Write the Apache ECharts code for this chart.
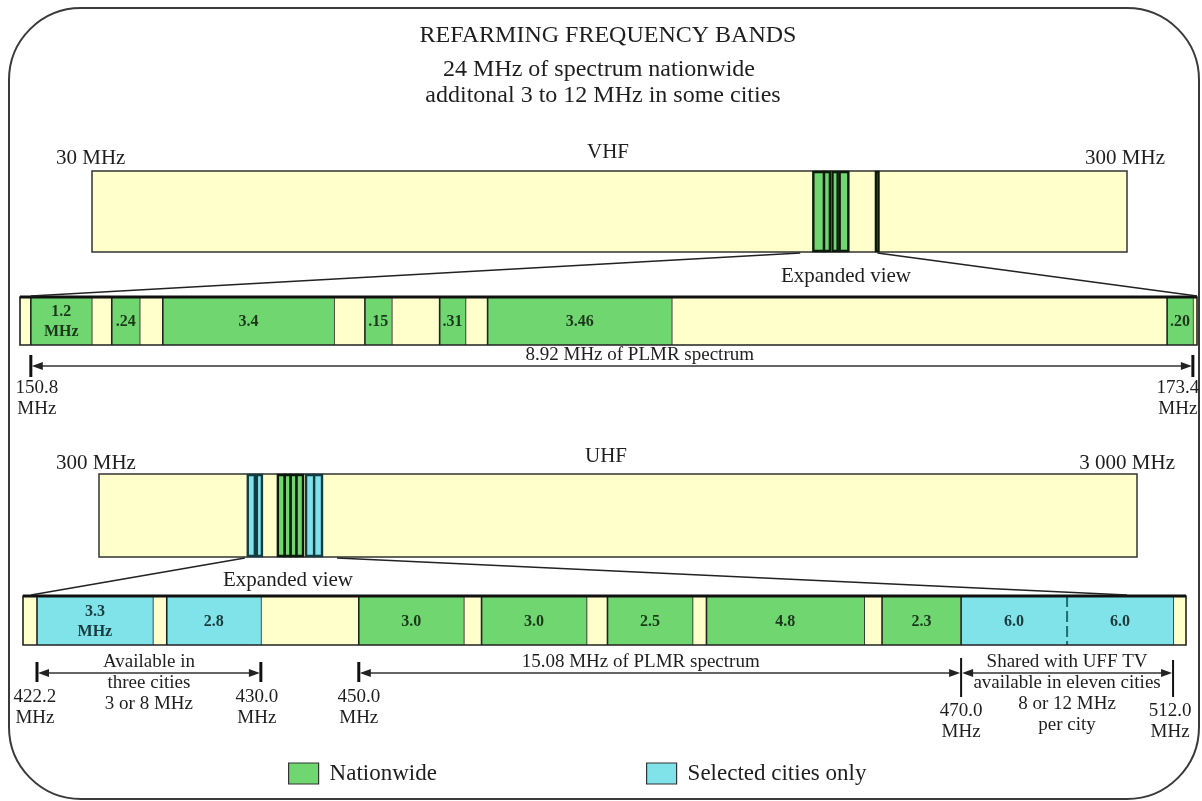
<!DOCTYPE html>
<html><head><meta charset="utf-8">
<script src="https://cdn.jsdelivr.net/npm/echarts@6/dist/echarts.min.js"></script>
<style>html,body{margin:0;padding:0;background:#fff}#c{width:1202px;height:801px}</style>
</head><body><div id="c"></div>
<script>
// ================= DATA =================
// Overview bands (log scale, MHz)
const vhfRange = [30, 300];
const vhfEndLabels = ['30 MHz', '300 MHz'];
const uhfRange = [300, 3000];
const uhfEndLabels = ['300 MHz', '3 000 MHz'];

// Marks visible on the overview bars: [fromMHz, toMHz, kind]
const vhfOverview = [[149.3,152.9,'nat'],[152.9,154.9,'nat'],[155.8,157.6,'nat'],[158.3,161.4,'nat'],[171.6,172.6,'nat']];
const uhfOverview = [[417.3,423.9,'city'],[425.8,430.6,'city'],[446.1,453,'nat'],[453,459,'nat'],[459,465,'nat'],[465,471.7,'nat'],[474.9,483.5,'city'],[483.5,492,'city']];

// Expanded VHF view: segments left to right (drawn widths, ~MHz)
const vhfKinds  = ['gap','nat','gap','nat','gap','nat','gap','nat','gap','nat','gap','nat','gap','nat','gap'];
const vhfLabels = ['','1.2\nMHz','','.24','','3.4','','.15','','.31','','3.46','','.20',''];
const vhfWidths = [0.21,1.18,0.39,0.54,0.45,3.32,0.6,0.52,0.93,0.5,0.43,3.57,9.61,0.5,0.08];
const vhfTickLabels = ['150.8','173.4'];
const vhfTickAfter  = [0, 13];                 // tick sits after this segment
const vhfSpans = [[0, 1, '8.92 MHz of PLMR spectrum', 0.524]];   // [fromTick, toTick, text, textAt]

// Expanded UHF view
const uhfKinds  = ['gap','city','gap','city','gap','nat','gap','nat','gap','nat','gap','nat','gap','nat','city','city','gap'];
const uhfLabels = ['','3.3\nMHz','','2.8','','3.0','','3.0','','2.5','','4.8','','2.3','6.0','6.0',''];
const uhfWidths = [0.4,3.31,0.4,2.69,2.8,3.0,0.51,3.0,0.6,2.43,0.4,4.51,0.51,2.26,3.03,3.03,0.37];
const uhfTickLabels = ['422.2','430.0','450.0','470.0','512.0'];
const uhfTickAfter  = [0, 3, 4, 13, 15];
const uhfSpans = [
  [0, 1, 'Available in\nthree cities\n3 or 8 MHz', 0.5],
  [2, 3, '15.08 MHz of PLMR spectrum', 0.468],
  [3, 4, 'Shared with UFF TV\navailable in eleven cities\n8 or 12 MHz\nper city', 0.5]
];
// "Expanded view" connectors: [overview MHz, expanded position]
const vhfLinks = [[145.0, 0.21], [172.2, 22.83]];
const uhfLinks = [[414.6, 0.23], [508.7, 31.56]];

const legendNames = ['Nationwide', 'Selected cities only'];

// ================= STYLE =================
const GREEN = '#70d670', TEAL = '#80e3ea', YELLOW = '#ffffcc', INK = '#1e1e1e';
const SERIF = '"Liberation Serif","DejaVu Serif",serif';
const colorOf = {nat: GREEN, city: TEAL, gap: YELLOW};
const edgeOf = {nat: '#0b1a0b', city: '#123c42'};
const nameOf = {nat: legendNames[0], city: legendNames[1], gap: 'Unallocated'};

const vhfTickStyle = [
  {y0: 10, y1: 32, lw: 3, top: 33, dx: 6},
  {y0: 10, y1: 32, lw: 3, top: 33, dx: -15}
];
const uhfTickStyle = [
  {y0: 17, y1: 37, lw: 3, top: 42, dx: -2},
  {y0: 17, y1: 37, lw: 3, top: 42, dx: -4},
  {y0: 17, y1: 37, lw: 3, top: 42, dx: 0},
  {y0: 13, y1: 52, lw: 2, top: 56, dx: 0},
  {y0: 15, y1: 52, lw: 2, top: 56, dx: -3}
];

function edges(widths) { const e = [0]; widths.forEach(w => e.push(e[e.length - 1] + w)); return e; }
function sum(a) { return a.reduce((s, v) => s + v, 0); }

const bands = {
  vhf: {kinds: vhfKinds, labels: vhfLabels, widths: vhfWidths, tickLabels: vhfTickLabels, tickAfter: vhfTickAfter,
        spans: vhfSpans, tickStyle: vhfTickStyle, arrowY: 21, axis: 1},
  uhf: {kinds: uhfKinds, labels: uhfLabels, widths: uhfWidths, tickLabels: uhfTickLabels, tickAfter: uhfTickAfter,
        spans: uhfSpans, tickStyle: uhfTickStyle, arrowY: 28, axis: 3}
};

const chart = echarts.init(document.getElementById('c'), null, {renderer: 'canvas'});

function segRender(band) {
  return function (params, api) {
    const a = api.value(0), b = api.value(1), i = api.value(2);
    const tl = api.coord([a, 1]), br = api.coord([b, 0]);
    const k = band.kinds[i];
    const ch = [{type: 'rect', shape: {x: tl[0], y: tl[1], width: br[0] - tl[0], height: br[1] - tl[1]},
                 style: {fill: colorOf[k]}}];
    if (i > 0) {
      const same = band.kinds[i - 1] === k && k !== 'gap';
      ch.push({type: 'line', shape: {x1: tl[0], y1: tl[1], x2: tl[0], y2: br[1]},
               style: {stroke: same ? '#1f6d75' : '#222', lineWidth: same ? 2 : 1.6, lineDash: same ? [11, 4] : null}});
    }
    if (band.labels[i]) {
      ch.push({type: 'text', style: {text: band.labels[i], x: (tl[0] + br[0]) / 2, y: (tl[1] + br[1]) / 2 + 1,
               align: 'center', verticalAlign: 'middle', font: 'bold 16px ' + SERIF, lineHeight: 20,
               fill: k === 'city' ? '#1a3a3c' : '#1b381b'}});
    }
    return {type: 'group', children: ch};
  };
}

function frameRender(params, api) {
  const tl = api.coord([api.value(0), 1]), br = api.coord([api.value(1), 0]);
  return {type: 'group', children: [
    {type: 'rect', shape: {x: tl[0], y: tl[1], width: br[0] - tl[0], height: br[1] - tl[1]},
     style: {fill: null, stroke: '#222', lineWidth: 1.6}},
    {type: 'line', shape: {x1: tl[0], y1: tl[1], x2: br[0], y2: tl[1]}, style: {stroke: '#111', lineWidth: 3}}
  ]};
}

function overviewRender(params, api) {
  const tl = api.coord([api.value(0), 1]), br = api.coord([api.value(1), 0]);
  const k = params.seriesName === legendNames[0] ? 'nat' : 'city';
  return {type: 'rect', shape: {x: tl[0], y: tl[1] + 1, width: Math.max(1, br[0] - tl[0]), height: br[1] - tl[1] - 2},
          style: {fill: colorOf[k], stroke: edgeOf[k], lineWidth: 2.4}};
}

function tickRender(band) {
  return function (params, api) {
    const idx = api.value(1);
    const p = api.coord([api.value(0), 0]);
    const st = band.tickStyle[idx];
    return {type: 'group', children: [
      {type: 'line', shape: {x1: p[0], y1: p[1] + st.y0, x2: p[0], y2: p[1] + st.y1}, style: {stroke: '#111', lineWidth: st.lw}},
      {type: 'text', style: {text: band.tickLabels[idx] + '\nMHz', x: p[0] + st.dx, y: p[1] + st.top, align: 'center',
        verticalAlign: 'top', font: '19px ' + SERIF, lineHeight: 21, fill: INK}}
    ]};
  };
}

function spanRender(band) {
  return function (params, api) {
    const x0 = api.coord([api.value(0), 0])[0], x1 = api.coord([api.value(1), 0])[0];
    const yb = api.coord([0, 0])[1] + band.arrowY;
    const sp = band.spans[api.value(2)];
    const tx = x0 + (x1 - x0) * sp[3];
    return {type: 'group', children: [
      {type: 'line', shape: {x1: x0 + 4, y1: yb, x2: x1 - 4, y2: yb}, style: {stroke: '#333', lineWidth: 1.3}},
      {type: 'polygon', shape: {points: [[x0 + 1, yb], [x0 + 12, yb - 4], [x0 + 12, yb + 4]]}, style: {fill: '#222'}},
      {type: 'polygon', shape: {points: [[x1 - 1, yb], [x1 - 12, yb - 4], [x1 - 12, yb + 4]]}, style: {fill: '#222'}},
      {type: 'text', style: {text: sp[2], x: tx, y: yb - 21, align: 'center', verticalAlign: 'top',
        font: '19px ' + SERIF, lineHeight: 21, fill: INK}}
    ]};
  };
}

const series = [];
// overview marks
[[vhfOverview, 0], [uhfOverview, 2]].forEach(([marks, ax]) => {
  ['nat', 'city'].forEach(k => {
    const d = marks.filter(m => m[2] === k).map(m => [m[0], m[1]]);
    if (!d.length) return;
    series.push({type: 'custom', name: nameOf[k], xAxisIndex: ax, yAxisIndex: ax, clip: false,
      itemStyle: {color: colorOf[k]}, encode: {x: [0, 1]}, data: d, renderItem: overviewRender, z: 2});
  });
});
// expanded bars
Object.values(bands).forEach(band => {
  const e = edges(band.widths);
  const segs = band.widths.map((w, i) => [e[i], e[i + 1], i]);
  ['gap', 'nat', 'city'].forEach(k => {
    const d = segs.filter(s => band.kinds[s[2]] === k);
    if (!d.length) return;
    series.push({type: 'custom', name: nameOf[k], xAxisIndex: band.axis, yAxisIndex: band.axis, clip: false,
      itemStyle: {color: colorOf[k]}, encode: {x: [0, 1]}, data: d, renderItem: segRender(band), z: 2});
  });
  series.push({type: 'custom', name: 'frame', xAxisIndex: band.axis, yAxisIndex: band.axis, clip: false,
    data: [[0, sum(band.widths)]], encode: {x: [0, 1]}, renderItem: frameRender, z: 4, silent: true});
  const ticks = band.tickAfter.map((s, i) => [e[s + 1], i]);
  series.push({type: 'custom', name: 'ticks', xAxisIndex: band.axis, yAxisIndex: band.axis, clip: false,
    data: ticks, encode: {x: 0}, renderItem: tickRender(band), z: 4, silent: true});
  const spans = band.spans.map((s, i) => [ticks[s[0]][0], ticks[s[1]][0], i]);
  series.push({type: 'custom', name: 'spans', xAxisIndex: band.axis, yAxisIndex: band.axis, clip: false,
    data: spans, encode: {x: [0, 1]}, renderItem: spanRender(band), z: 4, silent: true});
});

const legendCommon = {orient: 'horizontal', icon: 'rect', itemWidth: 30, itemHeight: 21, selectedMode: false,
  itemStyle: {borderColor: '#333', borderWidth: 1.2},
  textStyle: {fontFamily: SERIF, fontSize: 23, color: INK, padding: [0, 0, 0, 6]}};

chart.setOption({
  animation: false,
  backgroundColor: '#ffffff',
  legend: [
    Object.assign({data: [legendNames[0]], left: 283, top: 757}, legendCommon),
    Object.assign({data: [legendNames[1]], left: 641, top: 757}, legendCommon)
  ],
  grid: [
    {left: 92, top: 171, width: 1035, height: 81, show: true, backgroundColor: YELLOW, borderColor: '#333', borderWidth: 1.5},
    {left: 20, top: 297, width: 1177, height: 48},
    {left: 99, top: 474, width: 1038, height: 83, show: true, backgroundColor: YELLOW, borderColor: '#333', borderWidth: 1.5},
    {left: 23, top: 596, width: 1163, height: 49}
  ],
  xAxis: [
    {gridIndex: 0, type: 'log', logBase: 10, min: vhfRange[0], max: vhfRange[1], show: false},
    {gridIndex: 1, type: 'value', min: 0, max: sum(vhfWidths), show: false},
    {gridIndex: 2, type: 'log', logBase: 10, min: uhfRange[0], max: uhfRange[1], show: false},
    {gridIndex: 3, type: 'value', min: 0, max: sum(uhfWidths), show: false}
  ],
  yAxis: [0, 1, 2, 3].map(g => ({gridIndex: g, type: 'value', min: 0, max: 1, show: false})),
  series: series
});

// static texts, frame and "expanded view" connectors
function txt(text, x, y, size, align) {
  return {type: 'text', z: 10, style: {text, x, y, align: align || 'center', verticalAlign: 'middle',
    font: size + 'px ' + SERIF, fill: INK}};
}
function link(ovGrid, exGrid, pair) {
  const p = chart.convertToPixel({gridIndex: ovGrid}, [pair[0], 0]);
  const q = chart.convertToPixel({gridIndex: exGrid}, [pair[1], 1]);
  return {type: 'line', z: 10, shape: {x1: p[0], y1: p[1] + 1, x2: q[0], y2: q[1] - 1}, style: {stroke: '#222', lineWidth: 1.6}};
}
chart.setOption({graphic: [
  {type: 'rect', z: 0, shape: {x: 9, y: 8, width: 1190, height: 791, r: 72}, style: {fill: null, stroke: '#3a3a3a', lineWidth: 2}},
  txt('REFARMING FREQUENCY BANDS', 608, 36, 24),
  txt('24 MHz of spectrum nationwide', 599, 70, 24),
  txt('additonal 3 to 12 MHz in some cities', 603, 96, 24),
  txt('VHF', 608, 152, 21),
  txt(vhfEndLabels[0], 56, 158, 21, 'left'),
  txt(vhfEndLabels[1], 1165, 158, 21, 'right'),
  txt('Expanded view', 846, 276, 21),
  txt('UHF', 606, 456, 21),
  txt(uhfEndLabels[0], 56, 463, 21, 'left'),
  txt(uhfEndLabels[1], 1175, 463, 21, 'right'),
  txt('Expanded view', 288, 580, 21),
  link(0, 1, vhfLinks[0]), link(0, 1, vhfLinks[1]),
  link(2, 3, uhfLinks[0]), link(2, 3, uhfLinks[1])
]});
</script>
</body></html>
